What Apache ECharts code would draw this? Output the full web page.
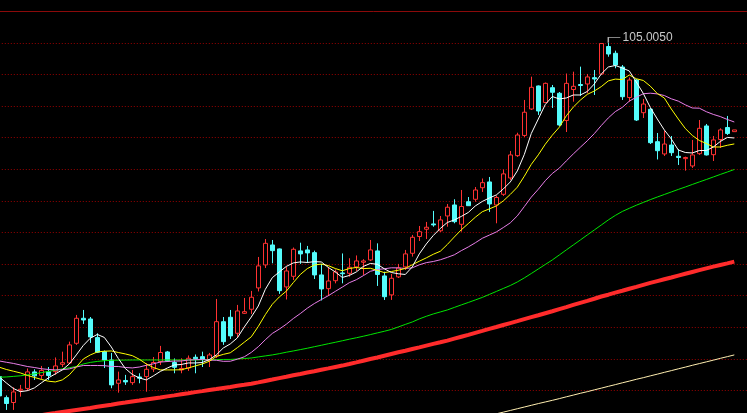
<!DOCTYPE html>
<html>
<head>
<meta charset="utf-8">
<script src="https://cdn.jsdelivr.net/npm/echarts@6/dist/echarts.min.js"></script>
<style>
html,body{margin:0;padding:0;background:#000;}
#c{width:747px;height:413px;}
</style>
</head>
<body>
<div id="c"></div>
<script>
// ---- data ----
const opens = [68.04,65.71,65.17,66.53,66.73,68.56,68.17,68.59,68.59,69.40,
69.55,71.73,74.50,74.42,72.36,70.80,69.88,67.30,67.61,67.37,
68.00,68.04,68.88,69.71,70.77,69.60,68.78,68.99,70.18,70.25,
69.82,70.33,74.12,74.61,72.84,75.05,75.50,77.86,80.41,82.62,
82.18,77.97,79.15,81.96,82.07,81.77,79.30,77.78,78.66,79.52,
79.48,80.19,80.71,80.96,81.96,79.19,77.09,79.08,80.19,81.70,
83.56,84.36,84.95,84.19,85.83,87.05,84.91,87.41,87.68,88.96,
89.60,87.05,88.23,90.04,92.51,94.75,97.68,100.23,98.40,100.04,
99.42,96.41,99.84,100.39,100.45,101.15,101.56,104.60,103.85,102.33,
98.95,100.89,97.27,97.65,94.06,92.70,93.69,92.44,92.18,91.37,
92.73,95.80,92.62,94.30,95.63,95.17];
const closes = [65.90,65.06,66.34,66.64,68.56,68.12,68.72,68.17,69.22,69.58,
71.55,74.50,74.31,72.43,70.74,69.88,67.12,67.67,67.45,68.04,
67.86,68.85,69.60,70.71,69.77,69.07,68.94,70.07,70.02,69.93,
70.44,74.12,71.91,72.55,75.31,75.23,76.83,80.30,82.80,81.99,
77.56,79.74,82.14,81.63,81.74,79.30,77.75,78.63,79.63,79.43,
80.15,80.85,80.85,82.07,79.35,76.89,78.93,80.07,81.63,83.47,
84.09,84.58,84.84,85.39,86.80,85.20,86.88,86.97,88.71,89.52,
87.16,87.88,90.49,92.59,94.80,97.32,100.08,97.46,100.52,99.53,
95.91,100.52,100.19,100.28,101.23,101.00,104.93,103.77,102.55,99.04,
100.89,96.46,98.23,93.95,93.06,93.80,92.84,92.31,92.31,92.59,
95.54,92.59,94.25,95.36,94.97,95.36];
const lows = [65.78,64.35,64.35,65.82,66.45,67.67,67.78,67.67,68.23,69.10,
69.44,71.55,73.87,71.77,70.66,68.99,66.75,66.26,67.12,67.12,
67.30,66.37,68.56,69.33,69.66,68.41,68.41,68.67,68.41,69.10,
69.10,70.10,71.55,72.21,72.43,74.98,74.98,77.47,80.07,80.59,
77.20,76.58,78.74,80.52,80.63,78.85,76.47,76.97,78.37,78.37,
79.11,79.74,79.30,80.85,78.08,76.53,76.53,78.96,79.85,81.33,
83.06,83.28,84.64,84.06,84.64,85.02,84.09,86.94,87.41,88.49,
86.28,85.02,88.05,89.82,92.37,94.58,97.57,97.02,98.35,97.79,
95.80,95.13,98.49,99.12,99.42,99.23,101.50,103.47,102.19,98.68,
98.49,96.35,96.68,93.80,92.09,92.48,92.48,91.48,90.85,91.15,
92.59,92.53,91.92,93.36,94.80,95.17];
const highs = [68.23,65.95,66.86,67.12,68.94,68.85,69.22,69.10,70.16,70.80,
71.91,74.87,75.42,74.64,72.84,70.93,70.66,68.59,68.23,68.78,
68.41,69.51,70.21,71.44,70.88,70.05,70.07,70.38,70.49,70.80,
70.66,76.64,74.64,75.42,75.98,76.75,77.53,81.29,83.28,83.17,
82.23,80.19,82.34,82.87,82.51,81.99,80.52,80.19,79.91,81.68,
81.15,81.46,81.04,83.17,82.80,79.66,79.41,80.52,82.07,83.73,
84.72,85.17,86.39,85.83,87.16,87.68,88.71,87.93,89.04,89.98,
90.15,88.10,90.98,93.03,95.05,98.68,101.26,100.28,100.61,100.34,
99.56,101.61,101.81,102.37,101.56,102.00,104.95,105.005,104.14,102.55,
101.17,101.00,98.79,97.79,95.02,95.25,94.69,93.25,92.40,94.25,
96.46,96.02,94.69,95.54,96.91,95.36];

const ma5 = [68.00,67.34,66.73,66.37,66.48,66.78,67.34,67.89,68.34,68.78,
69.44,70.44,71.49,72.29,72.71,72.38,71.32,70.05,68.94,68.28,
67.89,67.67,68.12,68.61,68.99,69.33,69.38,69.55,69.55,69.60,
69.93,70.44,71.21,71.66,72.32,73.54,74.64,75.86,77.70,79.00,
79.63,80.24,80.63,80.74,80.68,80.77,80.74,80.13,79.63,79.02,
79.24,79.63,80.24,80.57,80.48,79.98,79.57,79.43,79.35,80.19,
81.63,82.73,83.67,84.45,85.11,85.39,85.78,86.22,86.94,87.44,
87.82,88.16,88.82,89.60,90.82,92.64,94.97,96.57,98.18,99.06,
98.79,98.90,99.23,99.23,99.62,100.45,101.56,102.33,102.50,102.22,
101.89,100.67,99.40,97.85,96.57,95.36,94.36,93.14,92.86,92.81,
93.08,93.08,93.47,94.08,94.53,94.47];
const ma10 = [69.08,68.83,68.64,68.45,68.17,67.95,67.73,67.53,67.45,67.67,
68.23,69.10,69.99,70.44,70.77,70.85,70.88,70.71,70.55,70.36,
69.96,69.44,69.05,68.78,68.78,68.78,68.80,69.00,69.22,69.44,
69.74,70.27,70.50,70.68,71.24,71.85,72.45,73.60,74.90,76.05,
76.86,77.50,78.45,79.35,80.00,80.40,80.50,80.33,80.01,79.76,
80.01,80.13,80.00,80.04,79.80,79.56,79.68,79.82,80.02,80.43,
80.82,81.19,81.59,81.92,82.67,83.50,84.30,84.99,85.69,86.30,
86.61,86.94,87.50,88.22,89.02,90.23,91.55,92.60,93.78,94.78,
95.66,96.92,97.89,98.66,99.30,99.67,100.16,100.79,100.99,100.94,
101.44,101.03,100.84,100.21,99.39,98.90,97.68,96.57,95.52,94.75,
94.19,93.86,93.47,93.47,93.66,93.81];
const ma20 = [69.77,69.63,69.50,69.33,69.16,69.05,68.91,68.83,68.78,68.80,
68.89,69.10,69.27,69.27,69.27,69.25,69.16,69.16,69.05,69.00,
69.10,69.29,69.45,69.65,69.71,69.76,69.77,69.87,69.91,69.93,
69.87,69.85,69.73,69.74,69.97,70.23,70.72,71.35,72.12,72.82,
73.30,73.84,74.47,75.02,75.62,76.13,76.57,77.00,77.48,77.95,
78.44,78.77,79.22,79.70,79.90,79.98,80.09,80.08,80.02,80.09,
80.42,80.66,80.79,80.98,81.24,81.53,81.99,82.40,82.86,83.36,
83.71,84.06,84.55,85.07,85.84,86.87,87.92,88.79,89.74,90.54,
91.13,91.93,92.70,93.44,94.16,94.95,95.85,96.69,97.39,97.86,
98.55,98.98,99.37,99.43,99.35,99.17,98.81,98.55,98.14,97.79,
97.77,97.38,97.08,96.84,96.52,96.24];
const ma60 = [67.97,68.00,68.06,68.13,68.23,68.34,68.48,68.61,68.74,68.89,
69.02,69.16,69.44,69.61,69.72,69.80,69.85,69.86,69.87,69.88,
69.88,69.88,69.88,69.88,69.88,69.88,69.88,69.88,69.88,69.91,
69.91,69.91,69.94,69.94,69.99,70.04,70.10,70.22,70.33,70.44,
70.58,70.74,70.88,71.03,71.18,71.35,71.51,71.68,71.84,72.01,
72.18,72.34,72.51,72.69,72.88,73.06,73.26,73.54,73.82,74.09,
74.43,74.72,74.98,75.20,75.42,75.70,75.98,76.25,76.53,76.81,
77.14,77.47,77.80,78.13,78.52,78.97,79.46,79.96,80.46,80.96,
81.51,82.07,82.62,83.17,83.73,84.28,84.83,85.39,85.89,86.33,
86.68,87.02,87.33,87.64,87.93,88.21,88.49,88.77,89.04,89.32,
89.60,89.87,90.15,90.43,90.70,90.98];
const ma120 = [63.09,63.21,63.32,63.43,63.54,63.66,63.77,63.89,64.00,64.13,
64.24,64.35,64.46,64.57,64.70,64.81,64.92,65.05,65.16,65.28,
65.39,65.51,65.62,65.73,65.85,65.96,66.09,66.20,66.32,66.43,
66.55,66.66,66.78,66.89,67.02,67.13,67.25,67.40,67.56,67.71,
67.87,68.02,68.18,68.33,68.49,68.64,68.80,68.95,69.11,69.26,
69.43,69.61,69.80,69.99,70.16,70.35,70.54,70.73,70.91,71.10,
71.28,71.47,71.66,71.84,72.03,72.24,72.45,72.66,72.89,73.10,
73.32,73.53,73.75,73.97,74.18,74.40,74.62,74.83,75.06,75.28,
75.51,75.74,75.98,76.21,76.43,76.66,76.91,77.11,77.34,77.55,
77.77,77.98,78.20,78.42,78.62,78.82,79.02,79.23,79.43,79.63,
79.83,80.03,80.22,80.40,80.58,80.77];
const ma250Start = 68;
const ma250Values = [63.33,63.53,63.72,63.92,64.10,64.29,64.48,64.67,64.86,65.05,
65.23,65.41,65.60,65.80,65.99,66.19,66.37,66.57,66.76,66.96,
67.15,67.35,67.54,67.74,67.92,68.12,68.31,68.51,68.70,68.90,
69.09,69.29,69.48,69.67,69.86,70.06,70.25,70.44];
const extraSlots = 2; // empty days after the last candle
const categories = Array.from({length: opens.length + extraSlots}, (_, i) => 'D' + (i + 1));

// ---- build ----
const candleData = opens.map((o, i) => [o, closes[i], lows[i], highs[i]]);
const ma250 = Array(ma250Start).fill('-').concat(ma250Values);
let maxIdx = 0;
highs.forEach((h, i) => { if (h > highs[maxIdx]) maxIdx = i; });

const chart = echarts.init(document.getElementById('c'), null, {renderer: 'canvas'});
function lineS(name, data, color, width) {
  return {name, type: 'line', data, symbol: 'none', smooth: false, z: 3,
    lineStyle: {color, width}, itemStyle: {color}, silent: true};
}
chart.setOption({
  backgroundColor: '#000',
  animation: false,
  grid: {left: -4.2, top: 11.3, width: 756, height: 410.8, outerBoundsMode: 'none', containLabel: false},
  xAxis: [
    {type: 'category', data: categories, boundaryGap: true,
     axisLine: {show: false}, axisTick: {show: false}, axisLabel: {show: false}, splitLine: {show: false}},
    {type: 'category', data: categories, boundaryGap: true, position: 'top',
     axisLine: {show: true, lineStyle: {color: '#8b0a0a', width: 1}}, axisTick: {show: false}, axisLabel: {show: false}}
  ],
  yAxis: {type: 'value', min: 63, max: 108.5, interval: 3.5,
    axisLine: {show: false}, axisTick: {show: false}, axisLabel: {show: false},
    splitLine: {show: true, lineStyle: {color: '#990000', type: [1, 2], width: 1}}},
  series: [
    {type: 'candlestick', data: candleData, barWidth: 5, z: 2,
     itemStyle: {color: '#000000', borderColor: '#ff3232', color0: '#54fcfc', borderColor0: '#54fcfc', borderWidth: 1},
     markPoint: {
       symbol: 'path://M0,10L0,0L18,0', symbolSize: [12, 5.5], symbolOffset: [6, -2.75], symbolKeepAspect: false,
       itemStyle: {color: 'rgba(0,0,0,0)', borderColor: '#b0b0b0', borderWidth: 1},
       label: {show: true, position: [15, -5], color: '#c8c8c8', fontSize: 12, fontFamily: 'Liberation Sans, Arial, sans-serif',
               formatter: p => Number(p.value).toFixed(4)},
       data: [{coord: [maxIdx, highs[maxIdx]], value: highs[maxIdx]}]
     }},
    lineS('MA120', ma120, '#ff2b2b', 4),
    lineS('MA250', ma250, '#ffeeb0', 1),
    lineS('MA60', ma60, '#00e600', 1),
    lineS('MA20', ma20, '#e87ee8', 1),
    lineS('MA10', ma10, '#ffff00', 1),
    lineS('MA5', ma5, '#ffffff', 1)
  ]
});
</script>
</body>
</html>
